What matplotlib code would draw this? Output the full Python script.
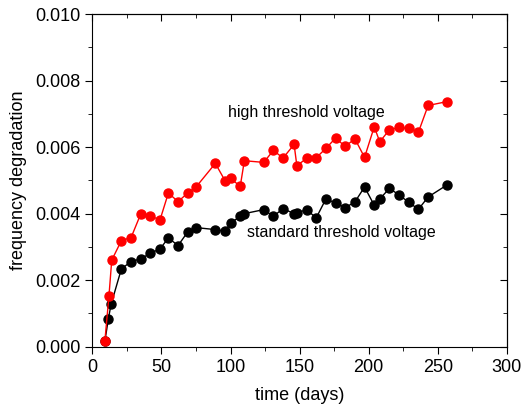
import matplotlib
matplotlib.use('Agg')
import matplotlib.pyplot as plt
from matplotlib.ticker import MultipleLocator

plt.rcParams['font.family'] = ['Liberation Sans', 'DejaVu Sans']

# high threshold voltage (red)
days_high = [9, 12, 14, 21, 28, 35, 42, 49, 55, 62, 69, 75, 89, 96, 100, 107, 110,
             124, 131, 138, 146, 148, 155, 162, 169, 176, 183, 190, 197, 204, 208,
             215, 222, 229, 236, 243, 257]
deg_high = [0.00016, 0.00153, 0.0026, 0.00319, 0.00328, 0.00399, 0.00392, 0.00382,
            0.00462, 0.00436, 0.00462, 0.0048, 0.00551, 0.00499, 0.00506, 0.00482,
            0.00559, 0.00554, 0.0059, 0.00567, 0.00608, 0.00544, 0.00566, 0.00568,
            0.00596, 0.00627, 0.00602, 0.00625, 0.00569, 0.00661, 0.00616, 0.00652,
            0.00659, 0.00656, 0.00645, 0.00725, 0.00737]

# standard threshold voltage (black)
days_std = [9, 11.5, 13.5, 21, 28, 35, 42, 49, 55, 62, 69, 75, 89, 96, 100, 107, 110,
            124, 131, 138, 146, 148, 155, 162, 169, 176, 183, 190, 197, 204, 208,
            215, 222, 229, 236, 243, 257]
deg_std = [0.00016, 0.00082, 0.00127, 0.00234, 0.00256, 0.00264, 0.00281, 0.00294,
           0.00327, 0.00304, 0.00345, 0.00358, 0.00352, 0.00347, 0.00371, 0.00392,
           0.004, 0.00412, 0.00392, 0.00415, 0.004, 0.00402, 0.00412, 0.00387,
           0.00444, 0.00432, 0.00418, 0.00435, 0.0048, 0.00425, 0.00444, 0.00476,
           0.00456, 0.00434, 0.00413, 0.0045, 0.00487]

fig = plt.figure(figsize=(5.22, 4.12), dpi=100)
ax = fig.add_axes([0.177, 0.1585, 0.794, 0.8075])

ax.plot(days_std, deg_std, color='black', lw=1, marker='o', ms=6.5)
ax.plot(days_high, deg_high, color='red', lw=1, marker='o', ms=6.5)

ax.text(155, 0.00703, 'high threshold voltage', fontsize=11.5, ha='center', va='center')
ax.text(180, 0.00343, 'standard threshold voltage', fontsize=11.5, ha='center', va='center')

ax.set_xlim(0, 300)
ax.set_ylim(0, 0.010)
ax.xaxis.set_major_locator(MultipleLocator(50))
ax.xaxis.set_minor_locator(MultipleLocator(25))
ax.yaxis.set_major_locator(MultipleLocator(0.002))
ax.yaxis.set_minor_locator(MultipleLocator(0.001))
ax.yaxis.set_major_formatter(matplotlib.ticker.FormatStrFormatter('%.3f'))

ax.tick_params(which='both', direction='out', labelsize=13)
ax.tick_params(which='major', length=5)
ax.tick_params(which='minor', length=3)

# inward ticks on top and right
axt = ax.secondary_xaxis('top')
axt.xaxis.set_major_locator(MultipleLocator(50))
axt.xaxis.set_minor_locator(MultipleLocator(25))
axt.tick_params(which='both', direction='in', labeltop=False)
axt.tick_params(which='major', length=5)
axt.tick_params(which='minor', length=3)
axr = ax.secondary_yaxis('right')
axr.yaxis.set_major_locator(MultipleLocator(0.002))
axr.yaxis.set_minor_locator(MultipleLocator(0.001))
axr.tick_params(which='both', direction='in', labelright=False)
axr.tick_params(which='major', length=5)
axr.tick_params(which='minor', length=3)

ax.set_xlabel('time (days)', fontsize=13, labelpad=8)
ax.set_ylabel('frequency degradation', fontsize=13, labelpad=6)

fig.savefig('out.png', dpi=100)
